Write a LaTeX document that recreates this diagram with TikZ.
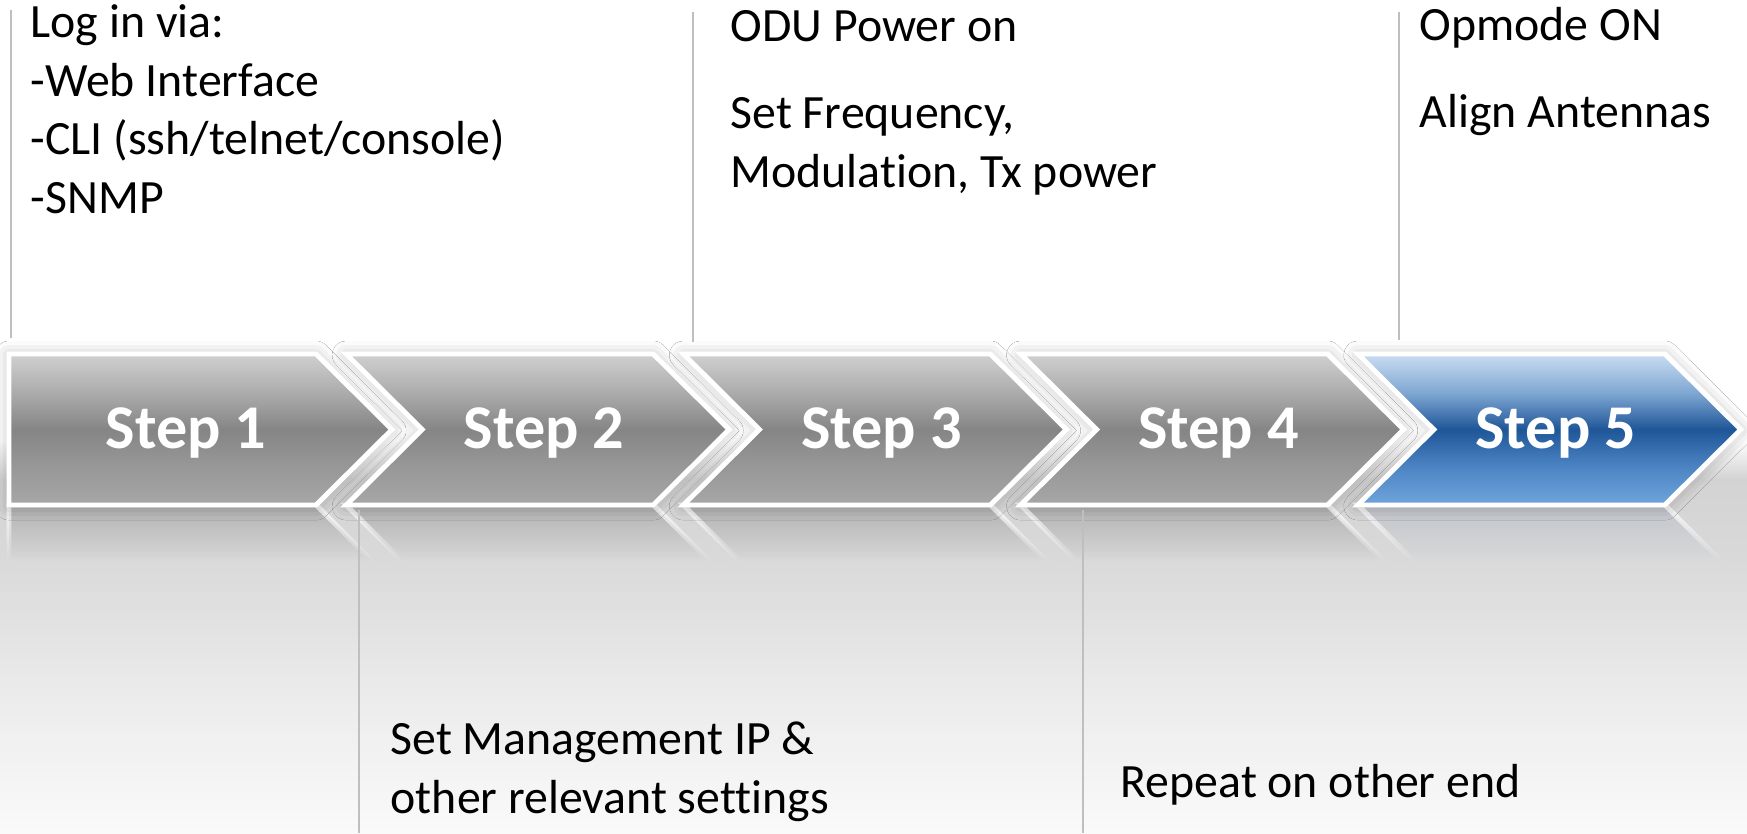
\documentclass[tikz,border=0pt]{standalone}
\usepackage{fontspec}
\setmainfont[Ligatures=NoCommon]{Carlito}
\usetikzlibrary{shadows.blur,fadings}

% arrow fills
\definecolor{sgtop}{HTML}{D0D0D0}
\definecolor{sgup}{HTML}{ABABAB}
\definecolor{sgmid}{HTML}{858585}
\definecolor{sglow}{HTML}{979797}
\definecolor{sgbot}{HTML}{A7A7A7}
\definecolor{sbtop}{HTML}{CADDF2}
\definecolor{sbup}{HTML}{7EA6D2}
\definecolor{sbmid}{HTML}{1F5698}
\definecolor{sblow}{HTML}{4B83C2}
\definecolor{sbbot}{HTML}{70A5DD}
% floor under the arrows
\definecolor{fltop}{HTML}{FFFFFF}
\definecolor{flup}{HTML}{D3D3D3}
\definecolor{flmid}{HTML}{D9D9D9}
\definecolor{fllow}{HTML}{ECECEC}
\definecolor{flbot}{HTML}{FAFAFA}

\pgfdeclareverticalshading{stepgray}{100bp}{color(0bp)=(sgbot); color(25bp)=(sgbot);
  color(38bp)=(sglow); color(50bp)=(sgmid); color(62bp)=(sgup); color(75bp)=(sgtop); color(100bp)=(sgtop)}
\pgfdeclareverticalshading{stepblue}{100bp}{color(0bp)=(sbbot); color(25bp)=(sbbot);
  color(38bp)=(sblow); color(50bp)=(sbmid); color(62bp)=(sbup); color(75bp)=(sbtop); color(100bp)=(sbtop)}
\pgfdeclareverticalshading{floor}{100bp}{color(0bp)=(flbot); color(25bp)=(flbot);
  color(42bp)=(fllow); color(60bp)=(flmid); color(70bp)=(flup); color(75bp)=(fltop); color(100bp)=(fltop)}

\begin{document}
\begin{tikzpicture}[
    chevron/.style={draw=white, line width=1.4pt, line join=miter,
        blur shadow={shadow xshift=0pt, shadow yshift=-0.3pt, shadow blur radius=4pt, shadow opacity=28}},
    mirror/.style={draw=white, line width=1.4pt, fill opacity=0.65, draw opacity=0.85, path fading=south},
    steplabel/.style={anchor=base, text=white, font=\fontsize{17.7}{20}\selectfont\bfseries},
    note/.style={anchor=base west, align=left, inner sep=0pt, font=\fontsize{13.6}{16.6}\selectfont},
    sepline/.style={draw=black!25, line width=0.6pt}]

    \useasboundingbox (0,0) rectangle (17.47,-8.33);
    \fill[white] (0,0) rectangle (17.47,-8.33);
    \fill[shading=floor] (0,-4.40) rectangle (17.47,-8.33);

    % reflections below the arrows
    \foreach \i/\tint/\cut in {1/black!38/0, 2/black!38/0.55, 3/black!38/0.55, 4/black!38/0.55, 5/sbmid!45!black!30/0.55} {
        \pgfmathsetmacro\L{0.09+3.372*(\i-1)}
        \path[mirror, fill=\tint] (\L,-5.05) -- (\L+3.07,-5.05) -- (\L+3.62,-5.60) -- (\L+\cut,-5.60) -- cycle;
    }

    % the five arrows
    \foreach \i/\shade/\notch/\tx in {1/stepgray/0/1.77, 2/stepgray/0.76/1.98, 3/stepgray/0.76/1.98,
                                      4/stepgray/0.76/1.98, 5/stepblue/0.76/1.98} {
        \pgfmathsetmacro\L{0.09+3.372*(\i-1)}
        \path[chevron, shading=\shade] (\L,-3.54) -- (\L+3.07,-3.54) -- (\L+3.83,-4.295)
            -- (\L+3.07,-5.05) -- (\L,-5.05) -- (\L+\notch,-4.295) -- cycle;
        \node[steplabel] (step\i) at (\L+\tx,-4.48) {Step \i};
    }

    % separators
    \draw[sepline] (0.11,-0.10) -- (0.11,-3.38);
    \draw[sepline] (6.93,-0.12) -- (6.93,-3.42);
    \draw[sepline] (13.99,-0.12) -- (13.99,-3.40);
    \draw[sepline] (3.59,-5.10) -- (3.59,-8.33);
    \draw[sepline] (10.83,-5.10) -- (10.83,-8.33);

    % what each step does (multi-line notes sit on their last baseline)
    \node[note] (login) at (0.30,-2.13) {Log in via:\\-Web Interface\\-CLI (ssh/telnet/console)\\-SNMP};
    \node[note] (odu) at (7.30,-0.41) {ODU Power on};
    \node[note] (freq) at (7.30,-1.87) {Set Frequency,\\Modulation, Tx power};
    \node[note] (opmode) at (14.19,-0.40) {Opmode ON};
    \node[note] (antennas) at (14.19,-1.27) {Align Antennas};
    \node[note] (mgmt) at (3.90,-8.13) {Set Management IP \&\\other relevant settings};
    \node[note] (repeat) at (11.20,-7.97) {Repeat on other end};

\end{tikzpicture}
\end{document}
